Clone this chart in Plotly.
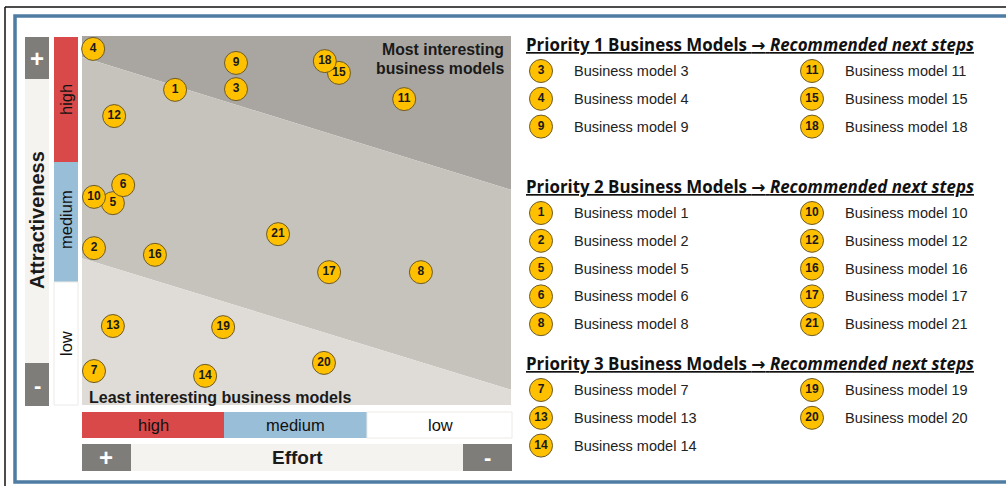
import math
import plotly.graph_objects as go

W, H = 1006, 486

# ---- data -------------------------------------------------------------
model_ids = [1, 2, 3, 4, 5, 6, 7, 8, 9, 10, 11, 12, 13, 14, 15, 16, 17, 18, 19, 20, 21]
# effort position (0 = high effort, 100 = low effort)
effort = [21.7, 2.8, 35.9, 2.6, 7.2, 9.6, 2.8, 79.0, 35.9, 2.8, 75.1,
          7.5, 7.2, 28.7, 59.9, 17.0, 57.6, 56.6, 32.9, 56.4, 45.7]
# attractiveness (0 = low, 100 = high)
attractiveness = [85.4, 42.5, 85.6, 96.5, 54.7, 59.6, 9.2, 36.0, 92.7, 56.4, 82.9,
                  78.3, 21.4, 7.9, 90.0, 40.7, 36.0, 93.2, 21.1, 11.4, 46.3]

# zone boundaries (left edge, right edge)
zone_x = [0, 100]
upper_boundary = [94.3, 58.3]
lower_boundary = [39.8, 4.1]

priority_groups = {
    "Priority 1": [3, 4, 9, 11, 15, 18],
    "Priority 2": [1, 2, 5, 6, 8, 10, 12, 16, 17, 21],
    "Priority 3": [7, 13, 14, 19, 20],
}

level_labels = ["high", "medium", "low"]

# ---- helpers ----------------------------------------------------------
def px(x):
    return x / W


def py(y):
    return 1 - y / H


def box(x0, y0, x1, y1, color, line=None):
    return dict(type="rect", xref="paper", yref="paper",
                x0=px(x0), x1=px(x1), y0=py(y1), y1=py(y0),
                fillcolor=color, line=line or dict(width=0), layer="below")


fig = go.Figure()

# Zones of the matrix
zone_colors = ["#a9a6a1", "#c6c3bd", "#dfdcd7"]
top = [100, 100]
bottom = [0, 0]
bands = [(top, upper_boundary), (upper_boundary, lower_boundary), (lower_boundary, bottom)]
for (hi, lo), col in zip(bands, zone_colors):
    fig.add_trace(go.Scatter(
        x=zone_x + zone_x[::-1], y=hi + lo[::-1], fill="toself",
        fillcolor=col, line=dict(width=0), mode="lines", hoverinfo="skip"))

bubble = dict(size=23, color="#ffc000", line=dict(color="#6b5a2a", width=1))
bubble_font = dict(family="Liberation Sans", size=12, color="#1a1a1a")

fig.add_trace(go.Scatter(
    x=effort, y=attractiveness, mode="markers+text",
    text=["<b>%d</b>" % m for m in model_ids], textposition="middle center",
    textfont=bubble_font, marker=bubble, cliponaxis=False,
    hovertext=["Business model %d" % m for m in model_ids], hoverinfo="text"))

# ---- legend on the right (pixel axis) ---------------------------------
head_y = [44, 186, 363]
row_gap = 27.8
col_x = [541, 812]
annotations = []
lx, ly, lt = [], [], []
for (name, ids), hy in zip(priority_groups.items(), head_y):
    annotations.append(dict(
        xref="x2", yref="y2", x=524, y=hy, xanchor="left", yanchor="middle",
        showarrow=False,
        text=("<b><u>%s Business Models <span style='font-family:DejaVu Sans'>\u2192</span>"
              " <i>Recommended next steps</i></u></b>") % name,
        font=dict(family="Open Sans", size=16.9, color="#111")))
    per_col = math.ceil(len(ids) / 2)
    for i, m in enumerate(ids):
        c, r = divmod(i, per_col)
        x = col_x[c]
        y = hy + 27 + r * row_gap
        lx.append(x)
        ly.append(y)
        lt.append("<b>%d</b>" % m)
        annotations.append(dict(
            xref="x2", yref="y2", x=x + 31, y=y, xanchor="left", yanchor="middle",
            showarrow=False, text="Business model %d" % m,
            font=dict(family="Liberation Sans", size=14.5, color="#222")))

fig.add_trace(go.Scatter(
    x=lx, y=ly, xaxis="x2", yaxis="y2", mode="markers+text", text=lt,
    textposition="middle center", textfont=bubble_font,
    marker=dict(size=23, color="#ffc000", line=dict(color="#6b5a2a", width=1)),
    hoverinfo="skip", cliponaxis=False))

# ---- decorations ------------------------------------------------------
red, blue, grey, strip = "#d94949", "#99bfd8", "#7f7d79", "#f4f3ef"
shapes = [
    # outer frame
    dict(type="line", xref="paper", yref="paper", x0=px(5), x1=px(1010), y0=py(7), y1=py(7),
         line=dict(color="#111", width=1.5)),
    dict(type="line", xref="paper", yref="paper", x0=px(5), x1=px(5), y0=py(7), y1=py(490),
         line=dict(color="#111", width=1.5)),
    dict(type="rect", xref="paper", yref="paper", x0=px(15), x1=px(1012), y0=py(482), y1=py(16),
         line=dict(color="#4e7ca3", width=3.5), fillcolor="rgba(0,0,0,0)", layer="below"),
    # vertical axis strip
    box(25, 37, 49, 406, strip),
    box(25, 37, 49, 79, grey),
    box(25, 363, 49, 406, grey),
    box(54, 37, 78, 162, red),
    box(54, 162, 78, 282, blue),
    box(54, 282, 78, 405, "#ffffff", dict(color="#eceae6", width=1)),
    # horizontal axis strip
    box(82, 412, 224, 438, red),
    box(224, 412, 367, 438, blue),
    box(367, 412, 512, 438, "#ffffff", dict(color="#eceae6", width=1)),
    box(82, 444, 512, 471, strip),
    box(82, 444, 131, 471, grey),
    box(463, 444, 512, 471, grey),
]


def label(x, y, text, size=14, bold=False, color="#111", angle=0, anchor="center"):
    annotations.append(dict(
        xref="paper", yref="paper", x=px(x), y=py(y), xanchor=anchor, yanchor="middle",
        showarrow=False, textangle=angle, text="<b>%s</b>" % text if bold else text,
        font=dict(family="Liberation Sans", size=size, color=color)))


label(37, 58, "+", 24, True, "white")
label(37, 385, "-", 22, True, "white")
label(37, 220, "Attractiveness", 20, True, "#1a1a1a", -90)
for t, y in zip(level_labels, [100, 220, 344]):
    label(66, y, t, 16.5, False, "#111", -90)
for t, x in zip(level_labels, [153, 295, 440]):
    label(x, 425, t, 16.5, False, "#111")
label(106, 457, "+", 24, True, "white")
label(297, 457, "Effort", 19, True, "#1a1a1a")
label(487, 457, "-", 22, True, "white")
label(506, 49, "Most interesting", 15.8, True, "#1a1a1a", anchor="right")
label(506, 68, "business models", 15.8, True, "#1a1a1a", anchor="right")
label(87, 397, "Least interesting business models", 16, True, "#1a1a1a", anchor="left")

fig.update_layout(
    width=W, height=H, margin=dict(l=0, r=0, t=0, b=0),
    paper_bgcolor="white", plot_bgcolor="rgba(0,0,0,0)", showlegend=False,
    xaxis=dict(domain=[px(82), px(511)], range=[0, 100], visible=False, fixedrange=True),
    yaxis=dict(domain=[py(405), py(36)], range=[0, 100], visible=False, fixedrange=True),
    xaxis2=dict(domain=[0, 1], range=[0, W], visible=False, anchor="y2", fixedrange=True),
    yaxis2=dict(domain=[0, 1], range=[H, 0], visible=False, anchor="x2", fixedrange=True),
    shapes=shapes, annotations=annotations,
)

fig.write_html("out.html", config={"displayModeBar": False},
               post_script="document.body.style.margin='0';")
